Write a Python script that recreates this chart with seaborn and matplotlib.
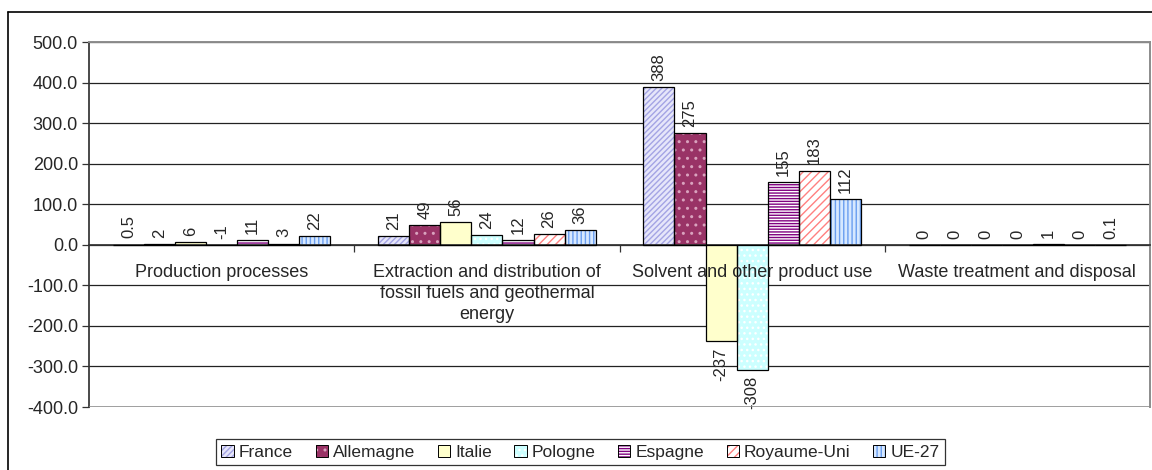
import matplotlib.pyplot as plt
import matplotlib.ticker as mticker
from matplotlib.lines import Line2D
from matplotlib.patches import Patch, Rectangle
import numpy as np
import pandas as pd
import seaborn as sns

categories = [
    "Production processes",
    "Extraction and distribution of\nfossil fuels and geothermal\nenergy",
    "Solvent and other product use",
    "Waste treatment and disposal",
]
countries = ["France", "Allemagne", "Italie", "Pologne", "Espagne", "Royaume-Uni", "UE-27"]

# one list per country, values per category
france = [0.5, 21, 388, 0]
allemagne = [2, 49, 275, 0]
italie = [6, 56, -237, 0]
pologne = [-1, 24, -308, 0]
espagne = [11, 12, 155, 1]
royaume_uni = [3, 26, 183, 0]
ue27 = [22, 36, 112, 0.1]

series = [france, allemagne, italie, pologne, espagne, royaume_uni, ue27]

# face colour, hatch colour, hatch pattern
styles = {
    "France": ("#E6E6FA", "#A4A4E4", "//////"),
    "Allemagne": ("#993366", "#D9A3BE", ".."),
    "Italie": ("#FFFFCC", "#FFFFCC", ""),
    "Pologne": ("#CCFFFF", "#FFFFFF", "..."),
    "Espagne": ("#FFFFFF", "#800080", "------"),
    "Royaume-Uni": ("#FFFFFF", "#FF8080", "////"),
    "UE-27": ("#D6E8FF", "#6A9EF0", "||||"),
}

rows = []
for country, vals in zip(countries, series):
    for cat, v in zip(categories, vals):
        rows.append({"category": cat, "country": country, "value": v})
df = pd.DataFrame(rows)

sns.set_theme(style="white")
plt.rcParams["font.family"] = ["Liberation Sans", "DejaVu Sans"]
plt.rcParams["hatch.linewidth"] = 1.0

fig = plt.figure(figsize=(11.52, 4.70), dpi=100)
ax = fig.add_axes([0.0773, 0.134, 0.9210, 0.7766])

sns.barplot(
    data=df, x="category", y="value", hue="country",
    order=categories, hue_order=countries,
    width=0.82, legend=False, ax=ax, errorbar=None,
)

# style each bar: hatch drawn in the hatch colour, black outline on top
for country, container in zip(countries, ax.containers):
    face, hcol, hatch = styles[country]
    for bar in container:
        bar.set_facecolor(face)
        bar.set_edgecolor(hcol)
        bar.set_hatch(hatch)
        bar.set_linewidth(0)
        ax.add_patch(Rectangle(bar.get_xy(), bar.get_width(), bar.get_height(),
                               fill=False, edgecolor="black", linewidth=0.9, zorder=3))

# value labels
for country, vals, container in zip(countries, series, ax.containers):
    for v, bar in zip(vals, container):
        x = bar.get_x() + bar.get_width() / 2
        if v >= -5:
            ax.annotate(f"{v:g}", (x, max(v, 0)), xytext=(0, 4.5), textcoords="offset points",
                        rotation=90, ha="center", va="bottom", fontsize=12)
        else:
            ax.annotate(f"{v:g}", (x, v), xytext=(0, -4.5), textcoords="offset points",
                        rotation=90, ha="center", va="top", fontsize=12)

ax.set_ylim(-400, 500)
ax.set_xlim(-0.5, 3.5)
ax.set_yticks(np.arange(-400, 501, 100))
ax.yaxis.set_major_formatter(mticker.FormatStrFormatter("%.1f"))
ax.yaxis.grid(True, color="#222222", linewidth=0.9)
ax.set_axisbelow(True)
ax.xaxis.set_zorder(5)
ax.set_xlabel("")
ax.set_ylabel("")

ax.spines["bottom"].set_position(("data", 0))
ax.spines["bottom"].set_color("#333333")
ax.spines["left"].set_color("#333333")
for s in ["top", "right"]:
    ax.spines[s].set_color("#8c8c8c")
    ax.spines[s].set_linewidth(1.4)
ax.axhline(-400, color="#8c8c8c", linewidth=1.8, zorder=4)

ax.tick_params(axis="y", which="major", left=True, length=5, width=0.9, color="#333333",
               labelsize=13, pad=3)
ax.tick_params(axis="x", which="major", length=0, labelsize=13, pad=14)
ax.set_xticks([0.5, 1.5, 2.5], minor=True)
ax.tick_params(axis="x", which="minor", bottom=True, length=5, width=0.9,
               color="#333333", direction="out")
for lbl in ax.get_xticklabels():
    lbl.set_linespacing(1.3)

handles = [
    (Patch(facecolor=styles[c][0], edgecolor=styles[c][1], hatch=styles[c][2], linewidth=0),
     Patch(fill=False, edgecolor="black", linewidth=0.7))
    for c in countries
]
leg = fig.legend(
    handles, countries, loc="center", bbox_to_anchor=(0.504, 0.038), ncol=7,
    fontsize=12.5, frameon=True, fancybox=False, edgecolor="black",
    handlelength=0.7, handleheight=0.7, handletextpad=0.3, columnspacing=1.3,
    borderpad=0.3,
)
leg.get_frame().set_linewidth(0.9)

# outer chart border (runs off the right and bottom edges)
fig.add_artist(Line2D([8 / 1152, 8 / 1152], [0, 1 - 12 / 470], color="black", linewidth=1.2,
                      transform=fig.transFigure))
fig.add_artist(Line2D([8 / 1152, 1], [1 - 12 / 470, 1 - 12 / 470], color="black",
                      linewidth=1.2, transform=fig.transFigure))

fig.savefig("out.png", dpi=100)
